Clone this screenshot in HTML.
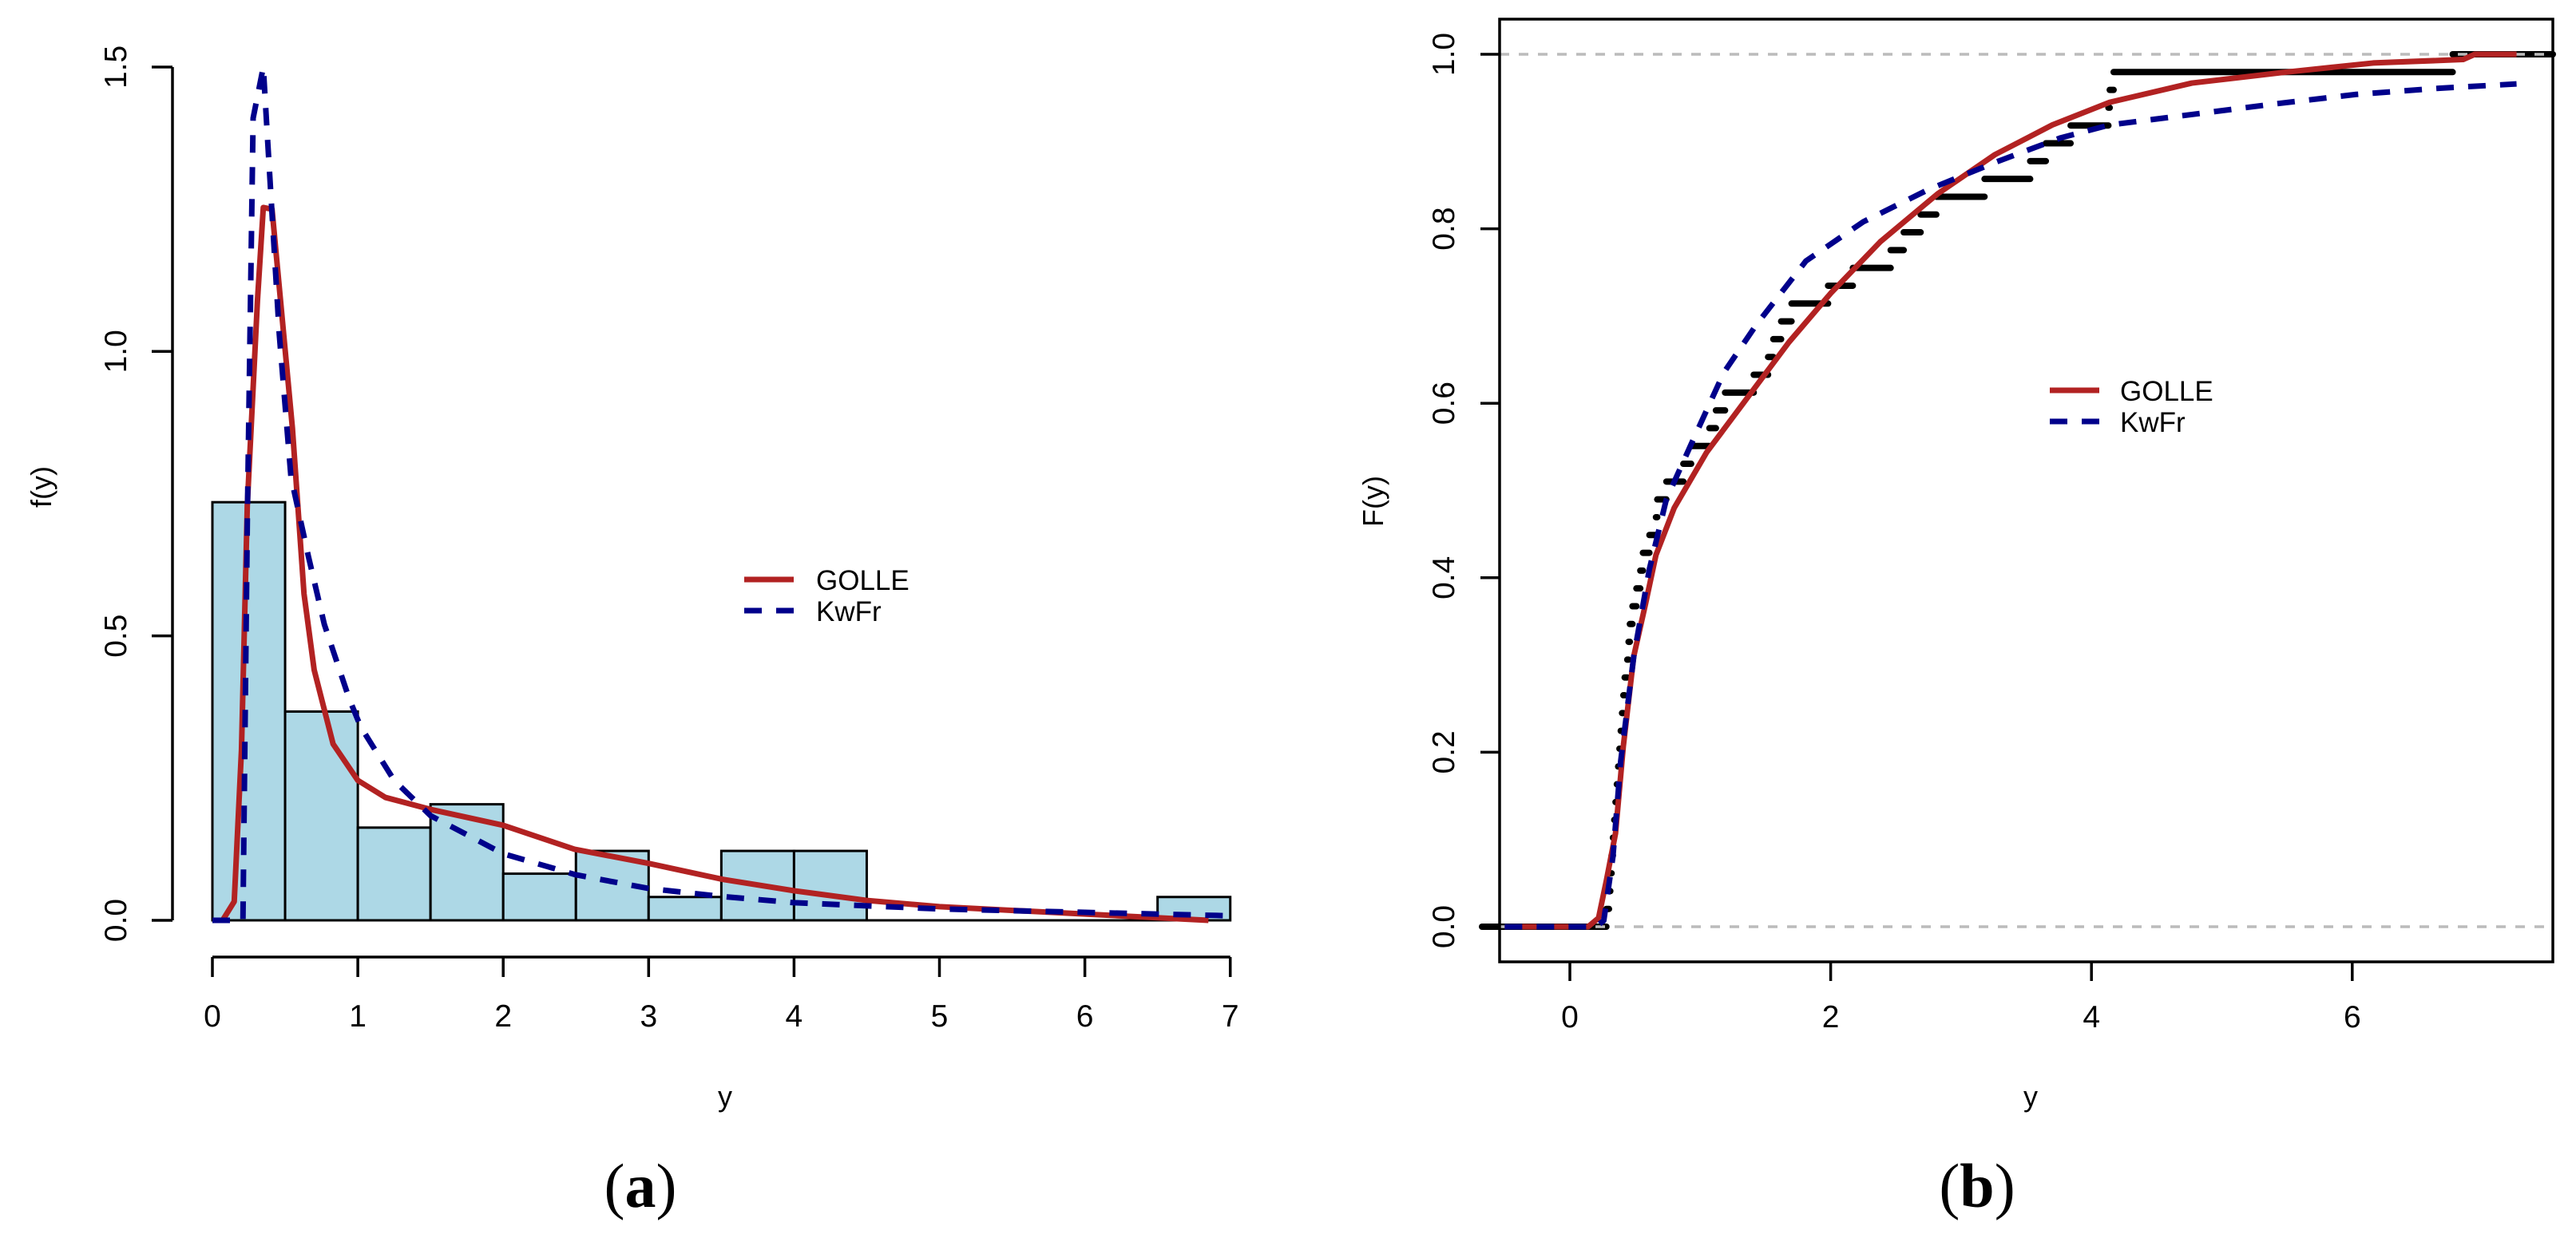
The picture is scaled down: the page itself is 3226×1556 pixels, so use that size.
<!DOCTYPE html>
<html><head><meta charset="utf-8"><style>
html,body{margin:0;padding:0;background:#fff;}
svg{display:block;font-family:"Liberation Sans",Arial,sans-serif;}
</style></head><body>
<svg id="fig" width="3226" height="1556" viewBox="0 0 3226 1556" xmlns="http://www.w3.org/2000/svg">
<g id="panelA"></g>
<g id="panelB"></g>
<text x="802" y="1512" text-anchor="middle" font-family="Liberation Serif, serif" font-size="78"><tspan>(</tspan><tspan font-weight="bold">a</tspan><tspan>)</tspan></text>
<text x="2476" y="1512" text-anchor="middle" font-family="Liberation Serif, serif" font-size="78"><tspan>(</tspan><tspan font-weight="bold">b</tspan><tspan>)</tspan></text>
</svg>
<script>
// ---- data: panel (a) ----
const binEdges = [0,0.5,1,1.5,2,2.5,3,3.5,4,4.5,5,5.5,6,6.5,7];
const binDensity = [0.735,0.367,0.163,0.204,0.082,0.122,0.041,0.122,0.122,0,0,0,0,0.041];
const xTicksA = [0,1,2,3,4,5,6,7];
const yTicksA = [0,0.5,1.0,1.5];
const yTickLabelsA = ["0.0","0.5","1.0","1.5"];
const golleX = [0,0.07,0.15,0.20,0.24,0.31,0.35,0.41,0.55,0.63,0.70,0.83,1.0,1.19,1.5,2.0,2.49,3.0,3.51,4.0,4.5,5.0,6.0,6.85];
const golleY = [0,0,0.033,0.3,0.73,1.09,1.253,1.25,0.866,0.574,0.44,0.31,0.246,0.216,0.195,0.167,0.125,0.10,0.072,0.052,0.035,0.024,0.011,0];
const kwX = [0,0.21,0.24,0.28,0.35,0.38,0.46,0.54,0.66,0.77,0.94,1.02,1.25,1.5,2.0,2.5,3.0,3.5,4.0,5.0,6.0,7.0];
const kwY = [0,0,0.7,1.41,1.5,1.37,1.03,0.78,0.64,0.52,0.39,0.34,0.246,0.184,0.117,0.08,0.056,0.042,0.031,0.02,0.014,0.008];
// ---- data: panel (b) ----
const sample = [0.28,0.30,0.31,0.32,0.33,0.34,0.35,0.36,0.37,0.38,0.39,0.40,0.41,0.42,0.44,0.45,0.46,0.48,
 0.51,0.54,0.56,0.61,0.66,0.67,0.74,0.87,0.93,1.07,1.12,1.19,1.41,1.52,1.56,1.62,1.70,1.98,2.17,2.46,
 2.56,2.69,2.81,3.18,3.53,3.65,3.84,4.13,4.14,4.17,6.77];
const xTicksB = [0,2,4,6];
const yTicksB = [0,0.2,0.4,0.6,0.8,1.0];
const yTickLabelsB = ["0.0","0.2","0.4","0.6","0.8","1.0"];
const golleCX = [-0.5,0.14,0.22,0.28,0.35,0.41,0.49,0.58,0.66,0.8,1.05,1.37,1.68,2.0,2.38,2.82,3.26,3.7,4.14,4.77,5.46,6.16,6.85,6.94,7.26];
const golleCY = [0,0,0.01,0.053,0.107,0.207,0.31,0.37,0.426,0.48,0.544,0.608,0.67,0.726,0.785,0.84,0.885,0.919,0.945,0.967,0.979,0.99,0.994,1.0,1.0];
const kwCX = [-0.5,0.2,0.26,0.33,0.39,0.49,0.61,0.74,0.93,1.18,1.43,1.81,2.25,2.75,3.26,3.76,4.14,4.77,5.4,6.03,6.66,7.26];
const kwCY = [0,0,0.007,0.08,0.19,0.31,0.41,0.49,0.553,0.635,0.69,0.763,0.808,0.845,0.876,0.904,0.919,0.931,0.943,0.954,0.961,0.966];

const NS="http://www.w3.org/2000/svg";
function mk(parent,tag,attrs,txt){const e=document.createElementNS(NS,tag);for(const k in attrs)e.setAttribute(k,attrs[k]);if(txt!==undefined)e.textContent=txt;parent.appendChild(e);return e;}
const RED="#B22222", BLUE="#00008B";

// ---------- Panel A ----------
const A=document.getElementById('panelA');
const xA=v=>266+182.1*v, yA=v=>1153-712.7*v;
for(let i=0;i<binDensity.length;i++){
  if(binDensity[i]<=0) continue;
  const r=mk(A,'rect',{x:xA(binEdges[i]),y:yA(binDensity[i]),width:xA(binEdges[i+1])-xA(binEdges[i]),height:yA(0)-yA(binDensity[i]),fill:"#ADD8E6",stroke:"#000","stroke-width":3});
  
  
}
mk(A,'line',{x1:xA(0),x2:xA(7),y1:yA(0),y2:yA(0),stroke:"#000","stroke-width":3});
let p=golleX.map((x,i)=>xA(x)+","+yA(golleY[i])).join(" ");
let c=mk(A,'polyline',{points:p,fill:"none",stroke:RED,"stroke-width":7,"stroke-linejoin":"round"});


p=kwX.map((x,i)=>xA(x)+","+yA(kwY[i])).join(" ");
c=mk(A,'polyline',{points:p,fill:"none",stroke:BLUE,"stroke-width":7,"stroke-dasharray":"22 18","stroke-linejoin":"round"});


// axes
mk(A,'line',{x1:xA(0),x2:xA(7),y1:1199,y2:1199,stroke:"#000","stroke-width":3.5});
xTicksA.forEach(t=>{
  mk(A,'line',{x1:xA(t),x2:xA(t),y1:1199,y2:1224,stroke:"#000","stroke-width":3.5});
  const l=mk(A,'text',{x:xA(t),y:1286,"text-anchor":"middle","font-size":39},String(t));
  
  
});
mk(A,'line',{x1:216,x2:216,y1:yA(0),y2:yA(1.5),stroke:"#000","stroke-width":3.5});
yTicksA.forEach((t,i)=>{
  mk(A,'line',{x1:190,x2:216,y1:yA(t),y2:yA(t),stroke:"#000","stroke-width":3.5});
  const l=mk(A,'text',{x:0,y:0,"text-anchor":"middle","font-size":39,transform:`translate(158,${yA(t)}) rotate(-90)`},yTickLabelsA[i]);
  
  
});
let t=mk(A,'text',{x:0,y:0,"text-anchor":"middle","font-size":36,transform:"translate(64,610) rotate(-90)"},"f(y)");


t=mk(A,'text',{x:908,y:1386,"text-anchor":"middle","font-size":36},"y");


// legend A
let lg=mk(A,'g',{});


mk(lg,'line',{x1:932,x2:994,y1:726,y2:726,stroke:RED,"stroke-width":7});
mk(lg,'text',{x:1022,y:739,"font-size":35},"GOLLE");
mk(lg,'line',{x1:932,x2:994,y1:765,y2:765,stroke:BLUE,"stroke-width":7,"stroke-dasharray":"22 18"});
mk(lg,'text',{x:1022,y:778,"font-size":35},"KwFr");

// ---------- Panel B ----------
const B=document.getElementById('panelB');
const xB=v=>1966+163.3*v, yB=v=>1161-1093*v;
const n=sample.length;
const ec=mk(B,'g',{stroke:"#000","stroke-width":8,"stroke-linecap":"round"});


mk(ec,'line',{x1:1856,x2:xB(sample[0]),y1:yB(0),y2:yB(0)});
for(let i=0;i<n;i++){
  const x2=i<n-1?xB(sample[i+1]):3197;
  const s=mk(ec,'line',{x1:xB(sample[i]),x2:Math.max(x2,xB(sample[i])+1),y1:yB((i+1)/n),y2:yB((i+1)/n)});
  
  
}
[0,1].forEach(v=>mk(B,'line',{x1:1878,x2:3197,y1:yB(v),y2:yB(v),stroke:"#BBBBBB","stroke-width":3.5,"stroke-dasharray":"12 12"}));
p=golleCX.map((x,i)=>xB(x)+","+yB(golleCY[i])).join(" ");
c=mk(B,'polyline',{points:p,fill:"none",stroke:RED,"stroke-width":7,"stroke-linejoin":"round"});


p=kwCX.map((x,i)=>xB(x)+","+yB(kwCY[i])).join(" ");
c=mk(B,'polyline',{points:p,fill:"none",stroke:BLUE,"stroke-width":7,"stroke-dasharray":"22 18","stroke-linejoin":"round"});


mk(B,'rect',{x:1878,y:24,width:3197-1878,height:1205-24,fill:"none",stroke:"#000","stroke-width":3.5});
xTicksB.forEach(v=>{
  mk(B,'line',{x1:xB(v),x2:xB(v),y1:1205,y2:1229,stroke:"#000","stroke-width":3.5});
  const l=mk(B,'text',{x:xB(v),y:1287,"text-anchor":"middle","font-size":39},String(v));
  
  
});
yTicksB.forEach((v,i)=>{
  mk(B,'line',{x1:1854,x2:1878,y1:yB(v),y2:yB(v),stroke:"#000","stroke-width":3.5});
  const l=mk(B,'text',{x:0,y:0,"text-anchor":"middle","font-size":39,transform:`translate(1821,${yB(v)}) rotate(-90)`},yTickLabelsB[i]);
  
  
});
t=mk(B,'text',{x:0,y:0,"text-anchor":"middle","font-size":36,transform:"translate(1732,628) rotate(-90)"},"F(y)");


t=mk(B,'text',{x:2543,y:1386,"text-anchor":"middle","font-size":36},"y");


lg=mk(B,'g',{});


mk(lg,'line',{x1:2567,x2:2629,y1:489,y2:489,stroke:RED,"stroke-width":7});
mk(lg,'text',{x:2655,y:502,"font-size":35},"GOLLE");
mk(lg,'line',{x1:2567,x2:2629,y1:528,y2:528,stroke:BLUE,"stroke-width":7,"stroke-dasharray":"22 18"});
mk(lg,'text',{x:2655,y:541,"font-size":35},"KwFr");
</script>
</body></html>
